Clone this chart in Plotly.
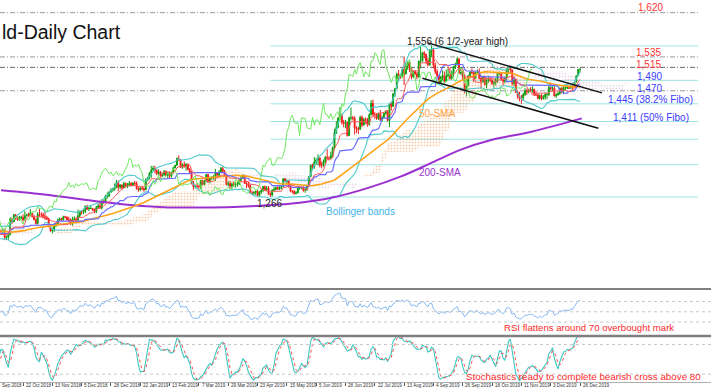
import numpy as np
import pandas as pd
import plotly.graph_objects as go

# ---------------- DATA (gold, daily bars) ----------------
# warm-up bars (14 Jun 2018 - 27 Sep 2018), only used for indicator history
warm_close = [1302,1278,1279,1275,1268,1263,1270,1267,1258,1253,1248,1251,
              1242,1253,1256,1257,1255,1259,1255,1246,1244,1241,1240,1227,1224,1222,1231,1224,1226,1231,1223,1222,1220,1224,
              1222,1208,1214,1208,1213,1214,1212,1211,1194,1193,1174,1177,1184,1189,1196,1195,1186,1206,1212,1209,1202,1201,1200,
              1193,1193,1196,1201,1197,1194,1195,1204,1201,1194,1199,1198,1203,1209,1198,1199,1201,1194,1183]
warm_high = [1309,1303,1285,1281,1277,1271,1272,1273,1269,1262,1256,1255,
             1253,1255,1259,1262,1262,1265,1261,1257,1248,1247,1244,1243,1229,1228,1233,1232,1229,1233,1233,1227,1226,1227,
             1228,1223,1219,1215,1216,1219,1217,1217,1213,1200,1194,1185,1189,1194,1201,1202,1196,1207,1215,1214,1212,1206,1208,
             1201,1200,1199,1204,1205,1199,1198,1206,1209,1203,1202,1205,1205,1211,1210,1203,1203,1207,1197]
warm_low = [1294,1275,1276,1271,1265,1261,1262,1264,1256,1251,1246,1247,
            1238,1239,1251,1251,1251,1254,1253,1245,1240,1238,1237,1226,1219,1211,1219,1223,1220,1224,1221,1220,1217,1219,
            1213,1206,1204,1205,1207,1210,1209,1206,1190,1189,1160,1170,1172,1182,1187,1192,1183,1184,1200,1203,1198,1195,1196,
            1191,1185,1189,1194,1193,1193,1190,1194,1199,1192,1193,1197,1197,1202,1196,1194,1197,1193,1180]

# chart bars (28 Sep 2018 - 27 Dec 2019)
close = [1191,
         1188,1204,1202,1199,1203,1188,1189,1194,1224,1218,1232,1226,1223,1227,1227,1222,1230,1232,1231,1235,1228,1223,1215,
         1233,1232,1232,1227,1226,1224,1209,1201,1202,1211,1214,1222,1224,1222,1228,1227,1222,1222,1214,1224,1224,1222,
         1230,1238,1237,1238,1248,1243,1244,1244,1241,1238,1246,1249,1245,1258,1256,1268,1268,1275,1279,1281,
         1284,1294,1285,1289,1284,1292,1287,1289,1292,1289,1293,1292,1282,1280,1283,1282,1280,1298,1302,1312,1318,1321,
         1317,1311,1314,1307,1309,1315,1308,1311,1306,1314,1322,1327,1340,1338,1323,1328,1325,1329,1319,1313,
         1293,1286,1287,1286,1286,1298,1290,1297,1309,1295,1302,1302,1306,1313,1308,1313,1321,1315,1310,1290,1292,
         1287,1291,1290,1291,1291,1298,1303,1307,1292,1291,1288,1274,1273,1275,1277,1269,1276,1279,1286,1280,1283,
         1272,1270,1279,1281,1284,1281,1284,1286,1301,1296,1297,1286,1277,1277,1273,1274,1283,1284,1284,1279,1280,1288,1305,
         1327,1324,1333,1337,1341,1327,1327,1334,1342,1341,1340,1346,1360,1390,1400,1418,1423,1409,1407,1409,
         1384,1418,1418,1417,1399,1397,1396,1419,1404,1415,1413,1405,1424,1446,1425,1424,1417,1426,1415,1419,1427,1430,1413,
         1445,1440,1464,1474,1502,1500,1497,1511,1502,1517,1524,1513,1497,1507,1502,1497,1527,1527,1543,1540,1527,1520,
         1547,1549,1519,1507,1499,1486,1496,1499,1488,1498,1501,1494,1505,1516,1522,1531,1504,1505,1497,1472,
         1480,1499,1506,1505,1494,1505,1506,1494,1488,1497,1482,1490,1492,1490,1484,1487,1492,1504,1504,1492,1488,1495,1513,
         1514,1510,1484,1492,1467,1459,1456,1456,1463,1470,1468,1472,1471,1473,1464,1462,1455,1461,1455,1458,1463,
         1463,1477,1474,1475,1460,1462,1465,1475,1471,1476,1476,1476,1475,1479,1478,1487,1499,1511,1511]
high = [1196,
        1194,1208,1207,1203,1207,1205,1192,1196,1227,1226,1233,1233,1229,1230,1230,1233,1239,1234,1236,1243,1235,1229,1225,
        1237,1243,1237,1236,1237,1230,1226,1211,1207,1216,1217,1225,1227,1226,1230,1230,1229,1228,1225,1228,1229,1227,
        1242,1240,1241,1243,1250,1251,1247,1249,1245,1244,1249,1253,1259,1262,1260,1270,1275,1278,1283,1284,
        1292,1299,1298,1291,1290,1295,1294,1293,1297,1295,1294,1297,1296,1286,1285,1286,1285,1302,1305,1314,1326,1326,
        1326,1319,1319,1316,1313,1318,1317,1314,1315,1315,1324,1328,1342,1346,1338,1331,1334,1331,1330,1322,
        1316,1297,1290,1292,1289,1299,1299,1299,1310,1311,1305,1306,1308,1320,1313,1318,1324,1324,1318,1310,1297,
        1297,1294,1295,1294,1296,1301,1307,1310,1309,1297,1295,1290,1278,1277,1278,1280,1277,1281,1287,1288,1287,
        1287,1275,1281,1286,1286,1287,1287,1288,1302,1303,1300,1298,1288,1279,1279,1277,1286,1287,1286,1287,1283,1290,1306,
        1328,1330,1343,1341,1348,1342,1334,1338,1345,1358,1344,1353,1363,1397,1411,1419,1439,1426,1414,1414,
        1411,1420,1438,1422,1421,1402,1401,1422,1423,1418,1419,1418,1427,1452,1453,1429,1427,1428,1433,1422,1428,1432,1433,
        1447,1449,1466,1475,1505,1510,1502,1513,1535,1524,1527,1526,1514,1509,1510,1506,1528,1555,1545,1546,1541,1533,
        1550,1557,1552,1524,1511,1500,1499,1509,1507,1511,1513,1514,1509,1518,1524,1535,1533,1515,1510,1500,
        1482,1501,1508,1513,1508,1507,1511,1513,1499,1499,1499,1495,1499,1497,1495,1489,1495,1505,1507,1506,1496,1497,1514,
        1517,1516,1511,1495,1493,1470,1468,1462,1466,1475,1474,1474,1477,1479,1474,1470,1466,1463,1464,1462,1467,
        1466,1479,1486,1481,1479,1465,1468,1476,1477,1480,1479,1482,1480,1481,1482,1487,1499,1511,1514]
low = [1181,
       1181,1186,1199,1196,1196,1183,1184,1184,1192,1214,1218,1222,1220,1220,1223,1219,1220,1229,1228,1230,1227,1221,1213,
       1213,1228,1227,1225,1222,1222,1208,1199,1196,1199,1208,1213,1220,1220,1220,1225,1221,1218,1212,1211,1220,1219,
       1220,1227,1232,1233,1235,1241,1239,1243,1239,1235,1235,1243,1243,1242,1253,1256,1263,1266,1275,1276,
       1278,1283,1277,1281,1280,1282,1284,1283,1286,1286,1287,1288,1280,1276,1277,1279,1276,1279,1297,1300,1303,1317,
       1311,1308,1307,1305,1304,1306,1306,1302,1302,1303,1311,1321,1326,1335,1322,1320,1322,1317,1317,1310,
       1290,1280,1282,1284,1281,1281,1288,1288,1294,1293,1292,1299,1299,1297,1304,1305,1312,1313,1306,1288,1286,
       1281,1280,1285,1284,1286,1289,1296,1301,1291,1283,1284,1272,1270,1270,1269,1266,1267,1271,1275,1278,1278,
       1270,1266,1267,1277,1278,1280,1279,1281,1286,1294,1291,1284,1275,1273,1270,1271,1273,1280,1281,1276,1274,1278,1288,
       1305,1318,1320,1328,1327,1323,1321,1324,1329,1338,1336,1338,1341,1357,1387,1398,1415,1405,1400,1398,
       1382,1383,1413,1413,1386,1389,1387,1395,1400,1404,1406,1401,1403,1423,1420,1416,1414,1414,1412,1411,1416,1424,1411,
       1400,1432,1440,1458,1474,1490,1493,1495,1481,1502,1510,1506,1492,1494,1500,1492,1495,1513,1526,1532,1521,1517,
       1518,1535,1513,1502,1495,1484,1485,1489,1486,1488,1497,1491,1491,1497,1512,1519,1503,1500,1490,1465,
       1459,1478,1494,1502,1487,1493,1502,1492,1474,1485,1480,1475,1485,1487,1481,1476,1480,1485,1500,1489,1480,1484,1490,
       1502,1504,1480,1478,1466,1454,1450,1445,1452,1460,1462,1465,1468,1466,1460,1460,1454,1453,1452,1453,1453,
       1454,1460,1471,1470,1459,1456,1461,1462,1465,1463,1470,1473,1474,1474,1471,1478,1486,1498,1505]

# date labels as seen (first one is cut by the left edge in the reference)
tick_labels = ["Sep 2018", "22 Oct 2018", "13 Nov 2018", "5 Dec 2018", "28 Dec 2018", "22 Jan 2019",
               "13 Feb 2019", "7 Mar 2019", "29 Mar 2019", "23 Apr 2019", "15 May 2019", "5 Jun 2019",
               "28 Jun 2019", "22 Jul 2019", "13 Aug 2019", "4 Sep 2019", "26 Sep 2019", "18 Oct 2019",
               "11 Nov 2019", "3 Dec 2019", "26 Dec 2019"]

# 200-SMA (bar index, price)
sma200_idx = [4, 30, 58, 76, 95, 113, 131, 149, 167, 185, 204, 222, 238, 255, 271, 293, 321]
sma200_val = [1279, 1270, 1257, 1250, 1246, 1246, 1247, 1250, 1255, 1265, 1283, 1305, 1330, 1357, 1375, 1391, 1417]

fib_levels = [1556, 1490, 1445, 1411, 1377, 1328, 1266]
gray_levels = [1620, 1535, 1515, 1470]
channel_upper_idx = [237, 332]
channel_upper_val = [1562, 1466]
channel_lower_idx = [234, 330]
channel_lower_val = [1494, 1398]

level_labels = ["1,620", "1,535", "1,515", "1,490", "1,470", "1,445 (38.2% Fibo)", "1,411 (50% Fibo)"]
level_label_colors = ["#ff3333", "#ff3333", "#ff3333", "#3c3cff", "#3c3cff", "#3c3cff", "#3c3cff"]

# ---------------- INDICATORS ----------------
C = np.array(warm_close + close, dtype=float)
H = np.array(warm_high + high, dtype=float)
L = np.array(warm_low + low, dtype=float)
nw = len(warm_close)
xi = np.arange(len(C)) - nw
O = np.r_[C[0], C[:-1]]
H = np.maximum(H, np.maximum(O, C))
L = np.minimum(L, np.minimum(O, C))

s = pd.Series(C)
hs = pd.Series(H)
ls = pd.Series(L)
sma50 = s.rolling(50).mean().values
mid = s.rolling(20).mean()
sd = s.rolling(20).std(ddof=0)
bb_up = (mid + 2 * sd).values
bb_lo = (mid - 2 * sd).values
tenkan = ((hs.rolling(9).max() + ls.rolling(9).min()) / 2).values
kijun = ((hs.rolling(26).max() + ls.rolling(26).min()) / 2).values
spanA = (tenkan + kijun) / 2
spanB = ((hs.rolling(52).max() + ls.rolling(52).min()) / 2).values

d = s.diff()
ag = d.clip(lower=0).ewm(alpha=1 / 14, adjust=False).mean()
al = (-d.clip(upper=0)).ewm(alpha=1 / 14, adjust=False).mean()
rsi = (100 - 100 / (1 + ag / al)).values

ll14 = ls.rolling(14).min()
hh14 = hs.rolling(14).max()
num = (s - ll14).rolling(3).sum()
den = (hh14 - ll14).rolling(3).sum()
stk = (100 * num / den)
std_ = stk.rolling(3).mean()

vis = xi >= 0

# ---------------- FIGURE ----------------
X0, X1 = 3.44, 391.5
FONT = "Liberation Sans, Arial, sans-serif"


def pxr(i):
    return (i - X0) / (X1 - X0)


fig = go.Figure()

# Ichimoku cloud (hatched)
xa = xi + 26
ok = ~(np.isnan(spanA) | np.isnan(spanB))
xs, A, B = xa[ok], spanA[ok], spanB[ok]
top = np.maximum(A, B)
for base, col in [(B, "#f0a060"), (A, "#d4b4d4")]:
    fig.add_trace(go.Scatter(x=xs, y=base, mode="lines", line=dict(width=0), hoverinfo="skip"))
    fig.add_trace(go.Scatter(x=xs, y=top, mode="lines", line=dict(width=0), fill="tonexty",
                             fillcolor="rgba(0,0,0,0)",
                             fillpattern=dict(shape=".", fgcolor=col, bgcolor="rgba(0,0,0,0)",
                                              size=3, solidity=0.35),
                             hoverinfo="skip"))

# Bollinger bands
for band in (bb_up, bb_lo):
    fig.add_trace(go.Scatter(x=xi, y=band, mode="lines", line=dict(color="#4cc9cc", width=1.1)))

# Moving averages
fig.add_trace(go.Scatter(x=sma200_idx, y=sma200_val, mode="lines", line=dict(color="#9b30d0", width=2, shape="spline")))
fig.add_trace(go.Scatter(x=xi, y=sma50, mode="lines", line=dict(color="#ffa31a", width=1.6)))

# Ichimoku lines
fig.add_trace(go.Scatter(x=xi, y=kijun, mode="lines", line=dict(color="#6a6aff", width=1.2)))
fig.add_trace(go.Scatter(x=xi, y=tenkan, mode="lines", line=dict(color="#ff5a5a", width=1)))
fig.add_trace(go.Scatter(x=xi - 26, y=C, mode="lines", line=dict(color="#70e860", width=1)))

# Candles
fig.add_trace(go.Candlestick(
    x=xi[vis], open=O[vis], high=H[vis], low=L[vis], close=C[vis],
    increasing=dict(line=dict(color="#0c9c0c", width=1), fillcolor="#0c9c0c"),
    decreasing=dict(line=dict(color="#f01c1c", width=1), fillcolor="#f01c1c"),
    whiskerwidth=0))

# Channel lines
fig.add_trace(go.Scatter(x=channel_upper_idx, y=channel_upper_val, mode="lines", line=dict(color="#111", width=1.5)))
fig.add_trace(go.Scatter(x=channel_lower_idx, y=channel_lower_val, mode="lines", line=dict(color="#111", width=1.5)))

# RSI
fig.add_trace(go.Scatter(x=xi[vis], y=rsi[vis], mode="lines", line=dict(color="#86b9f5", width=1), yaxis="y2"))
# Stochastic
fig.add_trace(go.Scatter(x=xi[vis], y=stk.values[vis], mode="lines", line=dict(color="#3cc8c0", width=1.1), yaxis="y3"))
fig.add_trace(go.Scatter(x=xi[vis], y=std_.values[vis], mode="lines", line=dict(color="#ff5050", width=1, dash="dot"), yaxis="y3"))

shapes = []
XR = 384.4
for lv in gray_levels:
    shapes.append(dict(type="line", xref="x", yref="y", x0=X0, x1=XR, y0=lv, y1=lv, layer="below",
                       line=dict(color="#666" if lv == 1515 else "#9a9a9a", width=1, dash="5px,2px,1px,2px")))
for lv in fib_levels:
    shapes.append(dict(type="line", xref="x", yref="y", x0=151, x1=XR, y0=lv, y1=lv, layer="below",
                       line=dict(color="#9fe3e3", width=1)))
for lv in (70, 50, 30):
    shapes.append(dict(type="line", xref="paper", yref="y2", x0=0, x1=1, y0=lv, y1=lv,
                       line=dict(color="#c8c8c8", width=1, dash="dot")))
for lv in (80, 20):
    shapes.append(dict(type="line", xref="paper", yref="y3", x0=0, x1=1, y0=lv, y1=lv,
                       line=dict(color="#c8c8c8", width=1, dash="dot")))
# panel separators
shapes.append(dict(type="line", xref="paper", yref="paper", x0=0, x1=1, y0=1 - 289 / 382, y1=1 - 289 / 382,
                   line=dict(color="#808080", width=2)))
shapes.append(dict(type="line", xref="paper", yref="paper", x0=0, x1=1, y0=1 - 336 / 382, y1=1 - 336 / 382,
                   line=dict(color="#808080", width=2.5)))

ann = []


def add(text, xidx, yval, yref="y", color="#222", size=10, xanchor="center"):
    ann.append(dict(text=text, xref="paper", x=pxr(xidx), yref=yref, y=yval, showarrow=False,
                    xanchor=xanchor, yanchor="middle", font=dict(family=FONT, size=size, color=color)))


ann.append(dict(text="ld-Daily Chart", xref="paper", x=0.0, yref="y", y=1583, showarrow=False,
                xanchor="left", yanchor="middle", font=dict(family=FONT, size=19.5, color="#111")))
add("1,556 (6 1/2-year high)", 253.4, 1565.6, color="#222", size=10)
label_pos = [(358.3, 1629), (357.4, 1542.6), (357.4, 1521.4), (357.7, 1496.5), (357.7, 1475.3),
             (358.3, 1454.2), (358.8, 1419.6)]
for t, c, (xx, yy) in zip(level_labels, level_label_colors, label_pos):
    add(t, xx, yy, color=c, size=10)
add("50-SMA", 242, 1427, color="#ffa040", size=10)
add("200-SMA", 243.6, 1314, color="#9933cc", size=10)
add("Bollinger bands", 200, 1239, color="#3fb4e8", size=10)
add("1,266", 150.8, 1252.6, color="#222", size=10)
add("RSI flattens around 70 overbought mark", 324.7, 19.7, yref="y2", color="#ff2a2a", size=9.6)
add("Stochastics ready to complete bearish cross above 80", 321.7, 15, yref="y3", color="#ff2a2a", size=9.8)

tick_idx = [16 * k for k in range(len(tick_labels))]
for k, (t, ti) in enumerate(zip(tick_labels, tick_idx)):
    xpos = 0.0 if k == 0 else pxr(ti + 0.4)
    ann.append(dict(text=t, xref="paper", x=xpos, yref="paper", y=1 - 385.5 / 382, showarrow=False,
                    xanchor="left", yanchor="middle", font=dict(family=FONT, size=4.6, color="#333")))

fig.update_layout(
    width=711, height=392, margin=dict(l=0, r=0, t=0, b=10),
    paper_bgcolor="white", plot_bgcolor="white", showlegend=False,
    shapes=shapes, annotations=ann, hovermode=False,
    xaxis=dict(range=[X0, X1], anchor="y3", showgrid=False, zeroline=False, tickvals=tick_idx,
               showticklabels=False, ticks="outside", ticklen=3, tickcolor="#555", tickwidth=1,
               showline=True, linecolor="#b0b0b0", rangeslider=dict(visible=False)),
    yaxis=dict(domain=[1 - 288 / 382, 1], range=[1091.24, 1644.34], visible=False, fixedrange=True),
    yaxis2=dict(domain=[1 - 335 / 382, 1 - 290 / 382], range=[4.63, 92.44], visible=False, anchor="x"),
    yaxis3=dict(domain=[0, 1 - 337 / 382], range=[4.24, 95.15], visible=False, anchor="x"),
)

fig.write_html("out.html", config={"displayModeBar": False},
               post_script="document.body.style.margin='0';document.body.style.padding='0';")
